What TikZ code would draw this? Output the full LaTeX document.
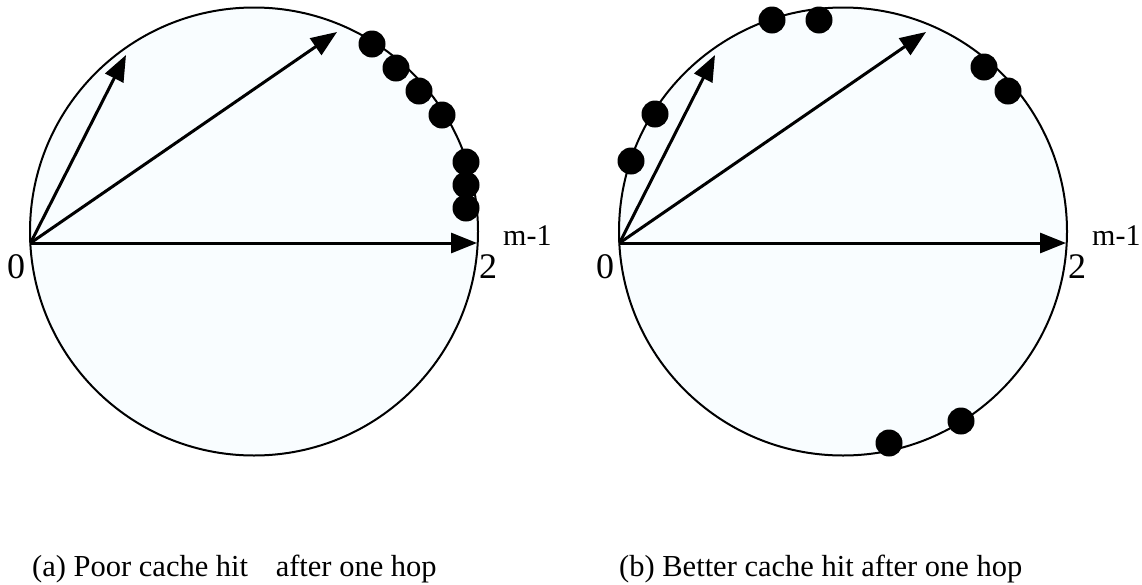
\documentclass[tikz,border=0pt]{standalone}
\usepackage{fontspec}
\setmainfont{Liberation Serif}
\usetikzlibrary{arrows.meta}
\definecolor{ringfill}{HTML}{F9FDFF}
\tikzset{
  ringstyle/.style={draw=black, line width=2pt, fill=ringfill},
  arrstyle/.style={line width=3pt, -{Triangle[length=26pt,width=20pt]}},
  dotstyle/.style={circle, fill=black, inner sep=0pt, minimum size=27pt},
  numstyle/.style={inner sep=0pt, font=\fontsize{36}{40}\selectfont},
  supstyle/.style={inner sep=0pt, font=\fontsize{30}{34}\selectfont},
  capstyle/.style={inner sep=0pt, anchor=base west, font=\fontsize{30.5}{34}\selectfont}
}
\begin{document}
\begin{tikzpicture}[x=1pt,y=-1pt]
\useasboundingbox (0,0) rectangle (1142,584);
% ---------- left ring ----------
\draw[ringstyle] (254,231.5) circle[radius=224pt];
\coordinate (Lo) at (30.5,243);
\coordinate (La) at (126,55);
\coordinate (Lb) at (337,32);
\coordinate (Lc) at (477,243);
\draw[arrstyle] (Lo) -- (La);
\draw[arrstyle] (Lo) -- (Lb);
\draw[arrstyle] (Lo) -- (Lc);
\node[dotstyle] (l1) at (372,44) {};
\node[dotstyle] (l2) at (396,68) {};
\node[dotstyle] (l3) at (419,91) {};
\node[dotstyle] (l4) at (442,115) {};
\node[dotstyle] (l5) at (466,162) {};
\node[dotstyle] (l6) at (466,185) {};
\node[dotstyle] (l7) at (466,208) {};
\node[numstyle, anchor=base west] (l0) at (7,278) {0};
\node[numstyle, anchor=base west] (l2t) at (479,278) {2};
\node[supstyle, anchor=base west] (lm) at (503,245) {m-1};
% ---------- right ring ----------
\draw[ringstyle] (843,231.5) circle[radius=224pt];
\coordinate (Ro) at (619.5,243);
\coordinate (Ra) at (715,55);
\coordinate (Rb) at (926,32);
\coordinate (Rc) at (1066,243);
\draw[arrstyle] (Ro) -- (Ra);
\draw[arrstyle] (Ro) -- (Rb);
\draw[arrstyle] (Ro) -- (Rc);
\node[dotstyle] (r1) at (772,20) {};
\node[dotstyle] (r2) at (819,20) {};
\node[dotstyle] (r3) at (984,67) {};
\node[dotstyle] (r4) at (1008,91) {};
\node[dotstyle] (r5) at (655,114) {};
\node[dotstyle] (r6) at (631,161) {};
\node[dotstyle] (r7) at (889,443) {};
\node[dotstyle] (r8) at (961,421) {};
\node[numstyle, anchor=base west] (r0) at (596,278) {0};
\node[numstyle, anchor=base west] (r2t) at (1068,278) {2};
\node[supstyle, anchor=base west] (rm) at (1092,245) {m-1};
% ---------- captions ----------
\node[capstyle] (capa) at (32,576) {(a) Poor cache hit\hspace{20pt} after one hop};
\node[capstyle] (capb) at (619,576) {(b) Better cache hit after one hop};
\end{tikzpicture}
\end{document}
